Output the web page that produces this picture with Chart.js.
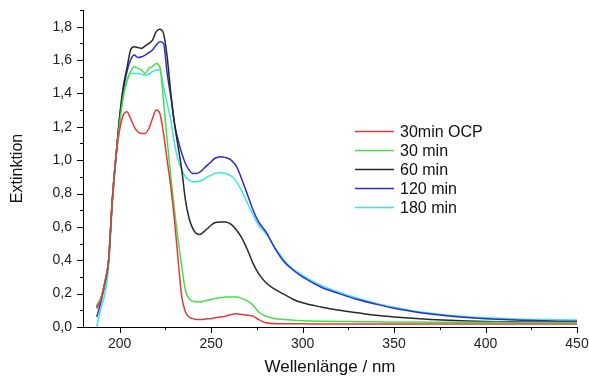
<!DOCTYPE html>
<html>
<head>
<meta charset="utf-8">
<script src="https://cdn.jsdelivr.net/npm/chart.js@4/dist/chart.umd.min.js"></script>
<style>
  html, body { margin: 0; padding: 0; background: #ffffff; }
  #wrap { width: 589px; height: 378px; }
</style>
</head>
<body>
<div id="wrap"><canvas id="c" width="589" height="378"></canvas></div>
<script>
// Wavelength grid (nm) shared by all spectra
const wavelengths = [187.5, 190, 192, 194, 196, 198, 200, 202, 204, 206, 208, 210, 212, 214, 216, 218, 220,
  222, 224, 226, 228, 230, 232, 234, 236, 238, 240, 242, 244, 246, 248, 250, 252, 255, 258, 261, 264, 267, 270, 273, 276,
  280, 285, 290, 295, 300, 310, 320, 330, 340, 350, 360, 370, 380, 390, 400, 410, 420, 430, 440, 450];

const seriesLabels = ['30min OCP', '30 min', '60 min', '120 min', '180 min'];

const ocp30 = [0.11, 0.17, 0.27, 0.40, 0.76, 1.02, 1.18, 1.27, 1.29, 1.25, 1.20, 1.17, 1.16, 1.16, 1.19, 1.25, 1.30,
  1.28, 1.16, 1.00, 0.84, 0.64, 0.40, 0.18, 0.09, 0.06, 0.05, 0.045, 0.045, 0.045, 0.05, 0.05, 0.055, 0.06, 0.065, 0.075, 0.08, 0.075, 0.07, 0.065, 0.045,
  0.025, 0.02, 0.02, 0.019, 0.019, 0.018, 0.018, 0.018, 0.018, 0.018, 0.018, 0.018, 0.018, 0.018, 0.018, 0.018, 0.018, 0.018, 0.018, 0.018];

const min30 = [0.13, 0.18, 0.27, 0.40, 0.76, 1.02, 1.22, 1.38, 1.47, 1.53, 1.56, 1.55, 1.54, 1.52, 1.55, 1.56, 1.58,
  1.56, 1.36, 1.12, 0.90, 0.70, 0.52, 0.36, 0.22, 0.17, 0.155, 0.15, 0.15, 0.155, 0.16, 0.165, 0.17, 0.175, 0.18, 0.18, 0.18, 0.17, 0.155, 0.13, 0.09,
  0.065, 0.05, 0.045, 0.04, 0.038, 0.035, 0.033, 0.032, 0.031, 0.03, 0.03, 0.029, 0.029, 0.028, 0.028, 0.028, 0.027, 0.027, 0.027, 0.027];

const min60 = [0.12, 0.18, 0.27, 0.40, 0.76, 1.02, 1.26, 1.44, 1.55, 1.66, 1.68, 1.675, 1.67, 1.685, 1.70, 1.72, 1.77,
  1.785, 1.76, 1.62, 1.40, 1.22, 1.08, 0.94, 0.76, 0.65, 0.59, 0.56, 0.555, 0.57, 0.59, 0.61, 0.625, 0.63, 0.63, 0.615, 0.58, 0.53, 0.46, 0.38, 0.32,
  0.265, 0.225, 0.195, 0.165, 0.145, 0.12, 0.10, 0.085, 0.07, 0.06, 0.052, 0.045, 0.04, 0.036, 0.033, 0.031, 0.03, 0.03, 0.03, 0.03];

const min120 = [0.06, 0.16, 0.26, 0.40, 0.76, 1.02, 1.25, 1.42, 1.53, 1.60, 1.63, 1.615, 1.62, 1.63, 1.645, 1.66, 1.69,
  1.71, 1.70, 1.52, 1.38, 1.22, 1.12, 1.04, 0.98, 0.94, 0.92, 0.92, 0.93, 0.95, 0.97, 0.99, 1.01, 1.02, 1.015, 1.0, 0.96, 0.88, 0.79, 0.70, 0.63,
  0.57, 0.47, 0.39, 0.34, 0.30, 0.24, 0.20, 0.165, 0.137, 0.112, 0.093, 0.078, 0.066, 0.057, 0.05, 0.045, 0.041, 0.038, 0.035, 0.034];

const min180 = [0.0, 0.12, 0.20, 0.36, 0.72, 1.0, 1.22, 1.38, 1.48, 1.52, 1.52, 1.52, 1.515, 1.51, 1.515, 1.53, 1.54,
  1.54, 1.44, 1.34, 1.24, 1.10, 1.00, 0.94, 0.90, 0.88, 0.87, 0.87, 0.875, 0.885, 0.90, 0.91, 0.92, 0.925, 0.92, 0.905, 0.87, 0.81, 0.74, 0.67, 0.61,
  0.56, 0.475, 0.40, 0.345, 0.31, 0.25, 0.208, 0.172, 0.143, 0.118, 0.098, 0.083, 0.071, 0.062, 0.056, 0.051, 0.047, 0.045, 0.043, 0.042];

const seriesValues = [ocp30, min30, min60, min120, min180];
const seriesColors = ['rgb(226,58,58)', 'rgb(70,222,70)', 'rgb(40,40,40)', 'rgb(45,45,200)', 'rgb(60,228,228)'];

const FONT = 'Liberation Sans, Arial, sans-serif';

const datasets = seriesLabels.map((label, i) => ({
  label,
  data: wavelengths.map((w, k) => ({ x: w, y: seriesValues[i][k] })),
  borderColor: seriesColors[i],
  backgroundColor: seriesColors[i],
  borderWidth: 1.5,
  pointRadius: 0,
  fill: false,
  cubicInterpolationMode: 'monotone'
}));

// Outward tick marks: long at labelled values, short in between
const tickMarks = {
  id: 'tickMarks',
  afterDraw(chart) {
    const ctx = chart.ctx;
    const xs = chart.scales.x, ys = chart.scales.y;
    ctx.save();
    ctx.strokeStyle = '#000';
    ctx.lineWidth = 1;
    ctx.beginPath();
    ys.ticks.forEach(t => {
      const major = Math.abs(Math.round(t.value * 10) % 2) === 0;
      const py = Math.round(ys.getPixelForValue(t.value)) + 0.5;
      const x0 = xs.left;
      ctx.moveTo(x0, py);
      ctx.lineTo(x0 - (major ? 6 : 3), py);
    });
    xs.ticks.forEach(t => {
      const major = t.value % 50 === 0;
      const px = Math.round(xs.getPixelForValue(t.value)) + 0.5;
      const y0 = ys.bottom;
      ctx.moveTo(px, y0);
      ctx.lineTo(px, y0 + (major ? 6 : 3));
    });
    ctx.stroke();
    ctx.restore();
  }
};

// Legend placed inside the plot, built from the dataset labels and colours
const insideLegend = {
  id: 'insideLegend',
  afterDraw(chart) {
    const ctx = chart.ctx;
    ctx.save();
    ctx.font = '16px ' + FONT;
    ctx.textBaseline = 'middle';
    ctx.textAlign = 'left';
    chart.data.datasets.forEach((ds, i) => {
      const y = 131.5 + i * 19;
      ctx.strokeStyle = ds.borderColor;
      ctx.lineWidth = 1.5;
      ctx.beginPath();
      ctx.moveTo(355, y);
      ctx.lineTo(394, y);
      ctx.stroke();
      ctx.fillStyle = '#111';
      ctx.fillText(ds.label, 400, y + 1);
    });
    ctx.restore();
  }
};

new Chart(document.getElementById('c'), {
  type: 'line',
  data: { datasets },
  options: {
    responsive: false,
    animation: false,
    layout: { padding: { top: 10, right: 0, left: 0, bottom: 0 } },
    plugins: { legend: { display: false }, tooltip: { enabled: false } },
    scales: {
      x: {
        type: 'linear',
        min: 180,
        max: 450,
        afterFit(scale) {
          scale.height = 51;
          scale.paddingLeft = 0;
          scale.paddingRight = 12;
        },
        ticks: {
          stepSize: 25,
          includeBounds: false,
          autoSkip: false,
          maxRotation: 0,
          padding: 9,
          color: '#222',
          font: { family: FONT, size: 14 },
          callback: v => (v % 50 === 0 ? String(v) : '')
        },
        grid: { display: false, drawTicks: false },
        border: { display: true, color: '#000', width: 1 },
        title: {
          display: true,
          text: 'Wellenlänge / nm',
          color: '#111',
          font: { family: FONT, size: 17 },
          padding: { top: 0, bottom: 0 }
        }
      },
      y: {
        type: 'linear',
        min: 0,
        max: 1.9,
        afterFit(scale) {
          scale.width = 83;
          scale.paddingTop = 0;
          scale.paddingBottom = 0;
        },
        ticks: {
          stepSize: 0.1,
          autoSkip: false,
          padding: 11,
          color: '#222',
          font: { family: FONT, size: 14 },
          callback: v => {
            const k = Math.round(v * 10);
            return k % 2 === 0 ? (k / 10).toFixed(1).replace('.', ',') : '';
          }
        },
        grid: { display: false, drawTicks: false },
        border: { display: true, color: '#000', width: 1 },
        title: {
          display: true,
          text: 'Extinktion',
          color: '#111',
          font: { family: FONT, size: 16 },
          padding: { top: 8, bottom: 0 }
        }
      }
    }
  },
  plugins: [tickMarks, insideLegend]
});
</script>
</body>
</html>
